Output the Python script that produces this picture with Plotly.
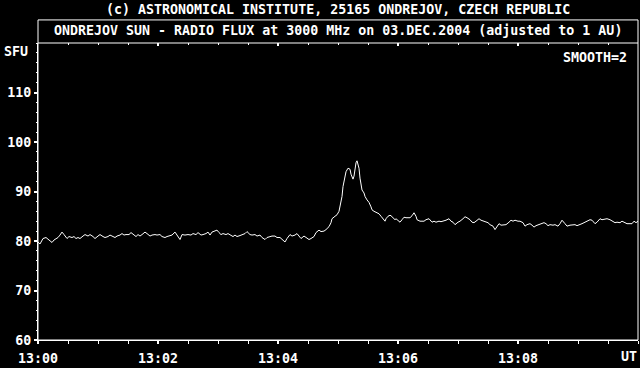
import plotly.graph_objects as go

# time in seconds after 13:00:00 UT, flux in SFU
t_sec = [0, 2, 5, 8, 11, 14, 16, 20, 22, 24, 26, 29, 31, 34, 36, 38, 40, 42, 45, 47,
         50, 52, 55, 57, 60, 62, 65, 67, 70, 72, 75, 77, 79, 82, 84, 86, 88, 91, 93, 95,
         98, 100, 102, 104, 107, 109, 112, 114, 117, 119, 122, 124, 127, 129, 132, 134, 137, 139, 142, 144,
         147, 150, 153, 155, 158, 160, 163, 165, 168, 170, 172, 174, 177, 179, 181, 183, 185, 188, 190, 193,
         195, 197, 199, 202, 204, 207, 209, 212, 214, 217, 219, 222, 224, 227, 229, 232, 234, 237, 239, 242,
         244, 247, 249, 252, 254, 257, 259, 261, 263, 266, 268, 271, 273, 276, 278, 281, 283, 286, 288, 291,
         293, 294, 297, 299, 301, 302, 304, 305, 307, 308, 310, 312, 313, 315, 316, 317, 318, 319, 321, 322,
         323, 324, 326, 327, 329, 331, 333, 334, 336, 338, 341, 343, 345, 347, 348, 350, 352, 353, 355, 357,
         358, 361, 362, 364, 366, 368, 370, 372, 374, 376, 378, 379, 382, 384, 386, 388, 391, 394, 396, 398,
         401, 403, 406, 408, 411, 413, 415, 417, 420, 422, 425, 427, 429, 432, 434, 436, 438, 441, 443, 446,
         448, 450, 452, 455, 457, 459, 461, 463, 466, 468, 471, 473, 475, 477, 480, 482, 485, 487, 489, 492,
         494, 496, 498, 501, 503, 506, 508, 510, 512, 515, 517, 520, 522, 524, 527, 529, 532, 534, 537, 539,
         542, 544, 547, 549, 552, 554, 557, 559, 562, 564, 567, 569, 572, 574, 577, 579, 582, 584, 587, 589,
         592, 594, 596, 598, 600]
flux = [79.8, 79.4, 80.5, 80.7, 80.2, 79.7, 80.2, 80.7, 81.2, 81.8, 81.3, 80.5, 80.9, 80.7, 80.9, 80.5, 80.7, 80.5, 81.0, 81.3,
        81.0, 81.3, 80.9, 80.5, 81.0, 81.3, 80.9, 80.7, 80.9, 81.2, 80.9, 80.7, 81.0, 81.2, 81.5, 81.2, 81.3, 81.3, 81.7, 81.3,
        80.9, 81.3, 81.0, 81.3, 81.8, 81.5, 81.0, 81.2, 81.3, 81.2, 81.3, 80.9, 80.7, 80.9, 81.0, 81.2, 81.8, 81.2, 80.3, 81.3,
        81.2, 81.3, 81.2, 81.5, 81.3, 81.7, 81.2, 81.3, 81.5, 81.8, 81.2, 81.8, 82.0, 82.2, 81.7, 81.3, 81.5, 81.3, 81.5, 81.2,
        80.9, 81.2, 80.9, 81.1, 81.2, 81.5, 81.9, 81.3, 81.2, 81.3, 81.0, 81.2, 80.7, 80.3, 80.7, 80.9, 81.0, 81.0, 80.7, 80.7,
        80.3, 79.8, 80.5, 81.3, 81.0, 81.2, 81.5, 81.0, 80.5, 81.0, 80.7, 80.3, 80.5, 80.9, 81.7, 82.2, 81.9, 82.0, 82.3, 82.9,
        83.7, 84.5, 85.0, 85.3, 86.0, 87.0, 89.0, 91.0, 92.9, 94.0, 94.7, 94.5, 93.5, 92.5, 93.1, 94.7, 95.8, 96.2, 94.7, 92.7,
        91.0, 90.3, 89.7, 89.0, 88.3, 87.8, 86.9, 86.3, 86.0, 85.8, 85.5, 85.0, 84.5, 84.0, 84.5, 85.0, 85.2, 85.1, 84.7, 84.3,
        84.5, 84.1, 83.8, 84.3, 84.8, 84.7, 84.7, 84.7, 85.1, 85.7, 85.0, 84.3, 84.0, 84.0, 84.0, 84.3, 84.5, 83.8, 84.0, 83.8,
        84.0, 83.9, 84.0, 84.2, 84.5, 84.0, 83.8, 83.3, 83.8, 84.0, 84.5, 84.9, 84.7, 84.3, 83.8, 83.7, 84.0, 84.5, 84.2, 84.0,
        83.8, 83.7, 83.3, 83.0, 82.3, 83.0, 83.5, 83.2, 83.3, 83.3, 83.8, 84.2, 84.0, 84.2, 84.0, 84.0, 83.7, 83.0, 83.3, 83.5,
        83.2, 82.8, 83.1, 83.3, 83.5, 83.7, 83.5, 83.1, 83.3, 83.2, 83.3, 83.0, 83.5, 84.2, 83.5, 83.0, 83.2, 83.2, 83.3, 83.1,
        83.3, 83.5, 83.8, 84.0, 84.3, 84.2, 83.5, 83.8, 84.5, 84.3, 84.5, 84.5, 84.3, 84.0, 83.7, 83.8, 83.7, 84.0, 83.7, 83.5,
        83.5, 83.5, 84.0, 83.7, 84.0]

x_tick_vals = [0, 120, 240, 360, 480]
x_tick_text = ["13:00", "13:02", "13:04", "13:06", "13:08"]
y_tick_vals = [60, 70, 80, 90, 100, 110]

title_main = "(c) ASTRONOMICAL INSTITUTE, 25165 ONDREJOV, CZECH REPUBLIC"
title_sub = "ONDREJOV SUN - RADIO FLUX at 3000 MHz on 03.DEC.2004 (adjusted to 1 AU)"

FONT = "DejaVu Sans Mono"
FSIZE = 13.3
FWEIGHT = "bold"

fig = go.Figure()
fig.add_trace(go.Scatter(x=t_sec, y=flux, mode="lines",
                         line=dict(color="white", width=1), hoverinfo="skip"))
fig.add_trace(go.Scatter(x=[0, 600], y=[60, 60], xaxis="x2", mode="lines",
                         line=dict(color="rgba(0,0,0,0)", width=0), hoverinfo="skip"))

fig.update_layout(
    width=640, height=368,
    margin=dict(l=38, r=2, t=43, b=25, pad=0),
    paper_bgcolor="black", plot_bgcolor="black",
    showlegend=False,
    font=dict(family=FONT, color="white", size=FSIZE, weight=FWEIGHT),
    xaxis=dict(range=[0, 600], tickmode="array", tickvals=x_tick_vals, ticktext=x_tick_text,
               ticks="outside", ticklen=3, tickwidth=2, tickcolor="white",
               ticklabelstandoff=3,
               showline=True, linecolor="white", linewidth=1,
               showgrid=False, zeroline=False,
               minor=dict(tickmode="linear", tick0=0, dtick=30, ticks="outside",
                          ticklen=3, tickwidth=1, tickcolor="white", showgrid=False)),
    xaxis2=dict(range=[0, 600], overlaying="x", side="top", tickmode="array",
                tickvals=x_tick_vals + [600], ticks="inside", ticklen=3, tickwidth=2,
                tickcolor="white", showticklabels=False, showline=False,
                showgrid=False, zeroline=False,
                minor=dict(tickmode="linear", tick0=0, dtick=30, ticks="inside",
                           ticklen=2, tickwidth=1, tickcolor="white", showgrid=False)),
    yaxis=dict(range=[60, 120], tickmode="array", tickvals=y_tick_vals,
               ticks="outside", ticklen=3, tickwidth=2, tickcolor="white",
               showline=True, linecolor="white", linewidth=1,
               showgrid=False, zeroline=False,
               minor=dict(tickmode="linear", tick0=60, dtick=2, ticks="outside",
                          ticklen=1, tickwidth=1, tickcolor="white", showgrid=False)),
)

# frame: box around subtitle and plot
fig.add_shape(type="rect", xref="paper", yref="paper", x0=0, x1=1, y0=0, y1=1.0777,
              line=dict(color="white", width=1))
fig.add_shape(type="line", xref="paper", yref="paper", x0=0, x1=1, y0=1, y1=1,
              line=dict(color="white", width=1))

ann = dict(xref="paper", yref="paper", showarrow=False,
           font=dict(family=FONT, color="white", size=FSIZE, weight=FWEIGHT))
fig.add_annotation(text=title_main, x=0.5, y=1.114, xanchor="center", yanchor="middle", **ann)
fig.add_annotation(text=title_sub, x=0.5, y=1.041, xanchor="center", yanchor="middle", **ann)
fig.add_annotation(text="SMOOTH=2", x=0.985, y=0.951, xanchor="right", yanchor="middle", **ann)
fig.add_annotation(text="SFU", x=-0.0367, y=0.971, xanchor="center", yanchor="middle", **ann)
fig.add_annotation(text="UT", x=0.985, y=-0.056, xanchor="center", yanchor="middle", **ann)

fig.write_html("out.html")
